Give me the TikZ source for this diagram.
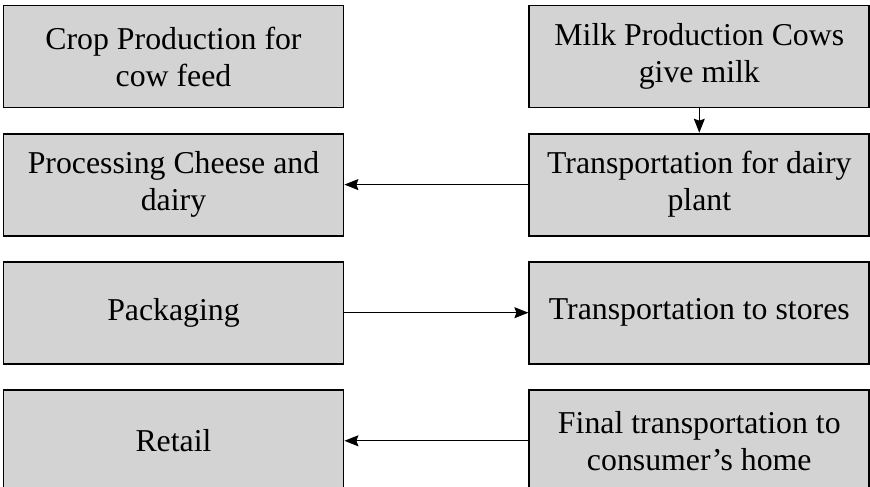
\documentclass[tikz,border=0pt]{standalone}
\usepackage{fontspec}
\setmainfont{Liberation Serif}
\usetikzlibrary{positioning, arrows.meta}
\definecolor{boxgray}{RGB}{211,211,211}

\begin{document}
\begin{tikzpicture}[x=1pt, y=1pt,
		box/.style={draw, line width=1.8pt, fill=boxgray, minimum width=340pt, minimum height=102pt, inner sep=0pt, align=center, font=\fontsize{31.8}{37}\selectfont},
		flow/.style={-{Stealth[length=14pt,width=11pt,inset=2pt]}, line width=1.1pt},
		node distance=24.3pt and 184pt]
				\useasboundingbox (0,0) rectangle (870,-487);
				% left and right columns
				\node [box] at (173.5,-56.5) (L1) {Crop Production for\\cow feed};
				\node [box, right=of L1] (R1) {Milk Production Cows\\give milk};
				\node [box, below=of L1] (L2) {Processing Cheese and\\dairy};
				\node [box, below=of R1] (R2) {Transportation for dairy\\plant};
				\node [box, below=of L2] (L3) {Packaging};
				\node [box, below=of R2] (R3) {Transportation to stores};
				\node [box, below=of L3] (L4) {Retail};
				\node [box, below=of R3] (R4) {Final transportation to\\consumer’s home};
				% flow
				\draw [flow] (R1) -- (R2);
				\draw [flow] (R2) -- (L2);
				\draw [flow] (L3) -- (R3);
				\draw [flow] (R4) -- (L4);
			\end{tikzpicture}
\end{document}
